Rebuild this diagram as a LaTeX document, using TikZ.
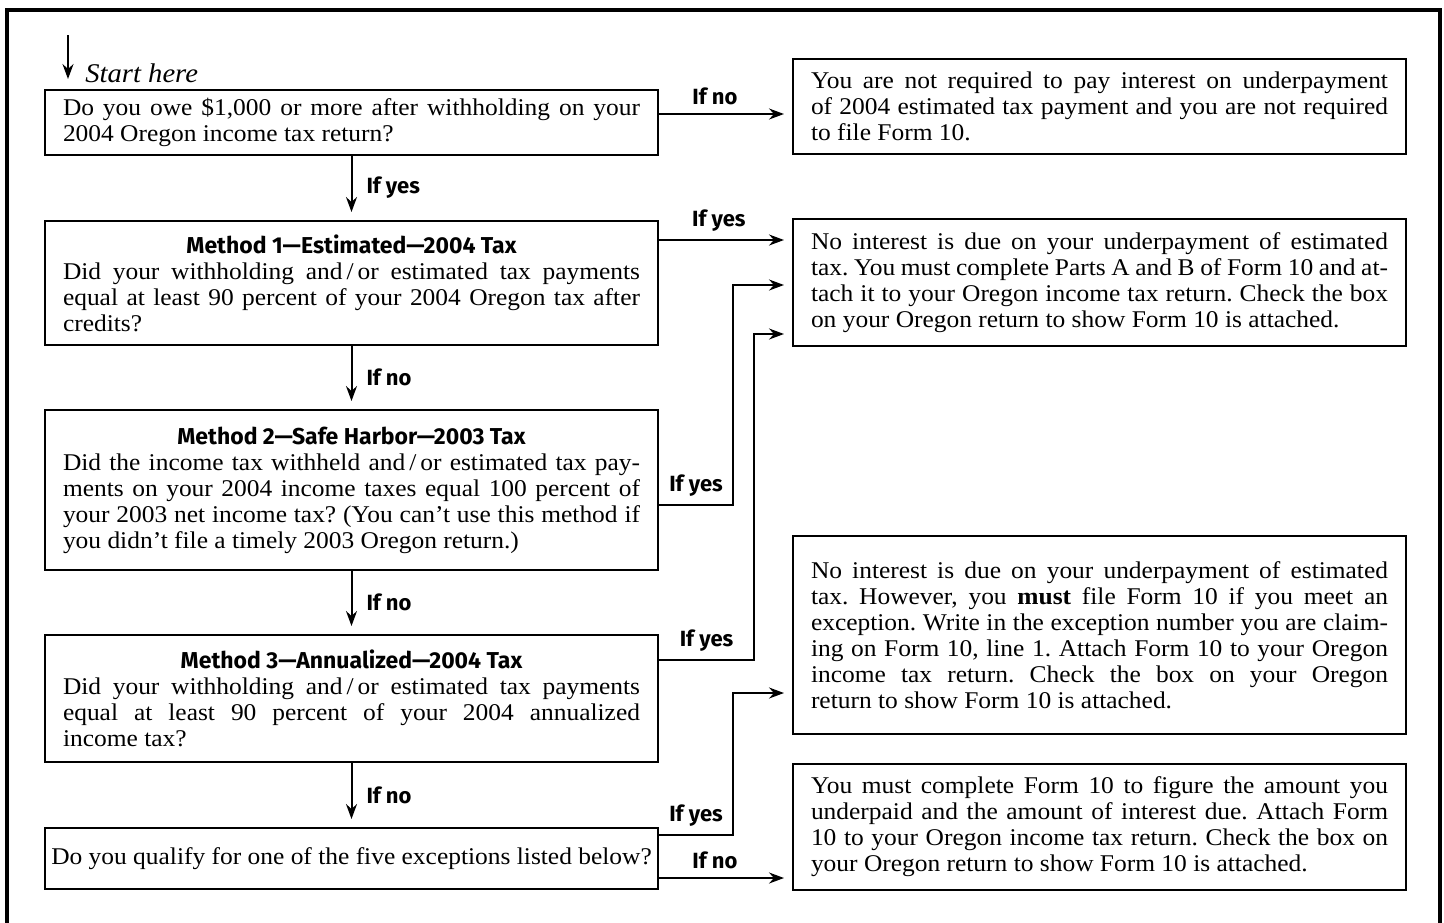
\documentclass[tikz,border=0pt]{standalone}
\usepackage{fontspec}
\setmainfont{Liberation Serif}[FakeStretch=1.06]
\newfontfamily\labelfont{Fira Sans}
\usepackage{tikz}
\usetikzlibrary{arrows.meta, positioning, calc}
\setlength{\parindent}{0pt}
\frenchspacing
\tikzset{
    question/.style={
        rectangle,
        draw=black,
        line width=1pt,
        anchor=north west,
        text width=288.5pt,
        inner xsep=9pt,
        align=justify,
        font=\fontsize{12}{13}\selectfont
    },
    answer/.style={
        question
    },
    shortq/.style={
        rectangle,
        draw=black,
        line width=1pt,
        anchor=north west,
        minimum width=306.5pt,
        inner xsep=2.5pt,
        font=\fontsize{12}{13}\selectfont
    },
    flow/.style={
        draw=black,
        line width=1pt,
        -{Stealth[length=7.5pt,width=5.5pt,inset=2.5pt]},
        shorten >=4pt
    },
    ifnote/.style={
        font=\labelfont\bfseries\fontsize{11}{13}\selectfont,
        inner sep=2pt
    },
    frame/.style={
        draw=black,
        line width=2.25pt
    }
}
\newcommand{\methodtitle}[1]{{\centering\labelfont\bfseries\fontsize{11.5}{13}\selectfont #1\par}}

\begin{document}
\begin{tikzpicture}[x=0.5pt, y=-0.5pt]

\useasboundingbox (0,0) rectangle (1444,922);
\fill[white] (0,0) rectangle (1444,922);
\draw[frame] (7,940) -- (7,10) -- (1440,10) -- (1440,940);

\coordinate (startpt) at (68,35);
\coordinate (busA) at (733,0);
\coordinate (busB) at (754,0);

\node[anchor=base west, inner sep=0pt, font=\itshape\fontsize{13.5}{15}\selectfont] (starthere) at (85,82) {Start here};

\node[question, minimum height=32.5pt] (q1) at (44,89) {Do you owe \$1,000 or more after withholding on your\linebreak 2004 Oregon income tax return?};
\node[answer, minimum height=47.5pt] (r1) at (792,58) {You are not required to pay interest on underpayment\linebreak of 2004 estimated tax payment and you are not required\linebreak to file Form 10.};

\node[question, minimum height=62pt] (m1) at (44,220) {\methodtitle{Method 1—Estimated—2004 Tax}Did your withholding and\,/\,or estimated tax payments\linebreak equal at least 90 percent of your 2004 Oregon tax after\linebreak credits?};
\node[answer, minimum height=63.5pt] (r2) at (792,218) {No interest is due on your underpayment of estimated\linebreak tax. You must complete Parts A and B of Form 10 and at-\linebreak tach it to your Oregon income tax return. Check the box\linebreak on your Oregon return to show Form 10 is attached.};

\node[question, minimum height=80pt] (m2) at (44,409) {\methodtitle{Method 2—Safe Harbor—2003 Tax}Did the income tax withheld and\,/\,or estimated tax pay-\linebreak ments on your 2004 income taxes equal 100 percent of\linebreak your 2003 net income tax? (You can’t use this method if\linebreak you didn’t file a timely 2003 Oregon return.)};

\node[question, minimum height=63.5pt] (m3) at (44,634) {\methodtitle{Method 3—Annualized—2004 Tax}Did your withholding and\,/\,or estimated tax payments\linebreak equal at least 90 percent of your 2004 annualized\linebreak income tax?};
\node[answer, minimum height=99pt] (r4) at (792,535) {No interest is due on your underpayment of estimated\linebreak tax. However, you \textbf{must} file Form 10 if you meet an\linebreak exception. Write in the exception number you are claim-\linebreak ing on Form 10, line 1. Attach Form 10 to your Oregon\linebreak income tax return. Check the box on your Oregon\linebreak return to show Form 10 is attached.};

\node[shortq, minimum height=30.5pt] (q5) at (44,827) {Do you qualify for one of the five exceptions listed below?};
\node[answer, minimum height=63pt] (r5) at (792,763) {You must complete Form 10 to figure the amount you\linebreak underpaid and the amount of interest due. Attach Form\linebreak 10 to your Oregon income tax return. Check the box on\linebreak your Oregon return to show Form 10 is attached.};

\draw[flow, shorten >=5pt] (startpt) -- (startpt |- q1.north);

\draw[flow] (q1) -- (m1) node[ifnote, midway, right=5pt] {If yes};
\draw[flow] (m1) -- (m2) node[ifnote, midway, right=5pt] {If no};
\draw[flow] (m2) -- (m3) node[ifnote, midway, right=5pt] {If no};
\draw[flow] (m3.south) -- (m3.south |- q5.north) node[ifnote, midway, right=5pt] {If no};

\draw[flow] ([yshift=4.25pt]q1.east) -- ([yshift=4.25pt]q1.east -| r1.west) node[ifnote, pos=0.42, above=2pt] {If no};
\draw[flow] ([yshift=21.5pt]m1.east) -- ([yshift=21.5pt]m1.east -| r2.west) node[ifnote, pos=0.45, above=2pt] {If yes};
\draw[flow] ([yshift=-7.5pt]m2.east) -| node[ifnote, pos=0.25, above=2pt] {If yes} ([yshift=-1.25pt]busA |- r2.west) -- ([yshift=-1.25pt]r2.west);
\draw[flow] ([yshift=19.25pt]m3.east) -| node[ifnote, pos=0.25, above=2pt] {If yes} ([yshift=-25.75pt]busB |- r2.west) -- ([yshift=-25.75pt]r2.west);
\draw[flow] ([yshift=11.75pt]q5.east) -| node[ifnote, pos=0.25, above=2pt] {If yes} ([yshift=-29pt]busA |- r4.west) -- ([yshift=-29pt]r4.west);
\draw[flow] ([yshift=-9.75pt]q5.east) -- ([yshift=-9.75pt]q5.east -| r5.west) node[ifnote, pos=0.42, above=2pt] {If no};

\end{tikzpicture}
\end{document}
